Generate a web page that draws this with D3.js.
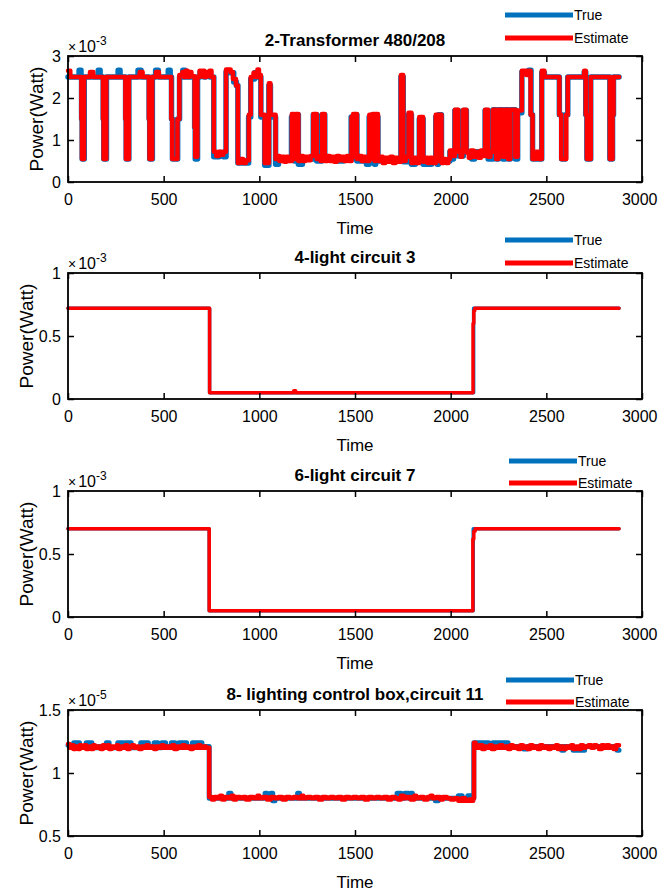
<!DOCTYPE html>
<html>
<head>
<meta charset="utf-8">
<script src="https://cdnjs.cloudflare.com/ajax/libs/d3/7.8.5/d3.min.js"></script>
<style>
body { margin: 0; background: #fff; }
svg text { font-family: "Liberation Sans", Arial, sans-serif; fill: #000; }
</style>
</head>
<body>
<svg id="chart" width="658" height="892"></svg>
<script>

// panel titles / axis things
var titles = ['2-Transformer 480/208', '4-light circuit 3', '6-light circuit 7', '8- lighting control box,circuit 11'];
var exponents = ['-3', '-3', '-3', '-5'];
var yDomains = [[0, 3], [0, 1], [0, 1], [0.5, 1.5]];
var yTicks = [[0, 1, 2, 3], [0, 0.5, 1], [0, 0.5, 1], [0.5, 1, 1.5]];
var xTicks = [0, 500, 1000, 1500, 2000, 2500, 3000];
var seriesNames = ['True', 'Estimate'];

// step change points [time, value] (value holds until next point)
var true1 = [
	[0,2.5],[58,2.66],[68,2.5],[71,1.5],[74,0.55],[85,2.5],
	[158,2.66],[168,2.5],[184,1.5],[187,0.55],[201,2.5],
	[262,2.66],[272,2.5],[301,1.5],[304,0.55],[318,2.5],
	[366,2.66],[382,2.5],[424,1.5],[427,0.55],[441,2.5],
	[458,2.66],[472,2.5],[524,2.66],[534,2.5],
	[541,1.5],[546,0.55],[573,1.5],[583,2.5],
	[600,2.66],[612,2.5],[628,2.6],[640,2.5],
	[662,1.3],[665,0.55],[677,2.5],[690,2.62],[710,2.5],[720,2.6],[742,2.5],
	[762,0.6],[790,0.7],[812,0.6],[826,2.62],[848,2.6],[866,2.38],[880,2.3],
	[888,0.45],[944,1.55],[955,2.45],[975,2.6],[995,2.5],
	[1008,1.55],[1028,0.4],[1050,2.3],[1058,1.55],[1085,0.42],
	[1100,0.55],[1168,1.55],[1182,0.5],[1190,1.6],[1204,0.42],[1225,0.55],
	[1282,1.6],[1300,0.5],[1328,1.6],[1342,0.55],[1400,0.5],[1440,0.58],
	[1480,1.55],[1498,0.55],[1502,1.6],[1510,0.5],[1560,0.42],
	[1574,1.55],[1585,0.5],[1592,1.6],[1602,0.42],[1608,1.55],[1620,0.5],
	[1680,0.55],[1740,2.5],[1752,0.48],[1780,1.6],[1795,0.42],[1815,0.5],
	[1836,1.5],[1856,0.42],[1900,0.5],
	[1922,1.55],[1930,0.42],[1936,1.6],[1952,0.5],
	[1996,0.72],[2005,0.55],[2015,0.72],[2022,1.7],[2040,0.62],[2066,1.7],[2082,0.72],[2110,0.55],[2125,0.72],
	[2180,1.7],[2196,0.55],[2222,1.72],[2238,0.55],[2250,1.72],[2272,0.55],[2285,1.72],[2300,0.55],[2312,1.72],[2338,0.55],
	[2350,1.65],[2372,2.62],[2408,2.66],[2420,1.6],[2428,0.55],
	[2476,2.6],[2490,2.5],[2568,1.6],[2580,0.55],[2600,1.6],[2612,2.5],
	[2698,2.62],[2706,1.6],[2712,0.55],[2732,2.5],[2832,0.55],[2846,1.6],[2851,2.5],[2880,2.5]
];
var est1 = [
	[0,2.65],[12,2.5],
	[70,1.5],[73,0.55],[84,2.5],
	[115,2.62],[132,2.5],
	[183,1.5],[186,0.55],[200,2.5],
	[300,1.5],[303,0.55],[318,2.5],
	[375,2.62],[390,2.5],
	[423,1.5],[426,0.55],[440,2.5],
	[460,2.62],[475,2.5],
	[540,1.5],[545,0.55],[572,1.5],[582,2.55],
	[598,2.62],[606,2.5],[615,2.65],[625,2.5],[635,2.62],[645,2.52],
	[662,1.3],[665,0.6],[676,2.5],
	[688,2.65],[695,2.52],[705,2.65],[712,2.5],[722,2.62],[730,2.52],[740,2.65],[750,2.5],
	[762,0.72],[775,0.62],[788,0.72],[800,0.65],[812,0.72],
	[826,2.68],[850,2.62],[862,2.45],[878,2.3],
	[888,0.45],[900,0.55],[915,0.45],[930,0.52],[945,1.6],[955,2.5],[970,2.6],[982,2.5],[990,2.68],[998,2.55],
	[1008,1.6],[1028,0.45],[1050,2.35],[1058,1.6],[1085,0.55],
	[1095,0.62],[1105,0.5],[1118,0.6],[1130,0.48],[1142,0.6],[1155,0.5],
	[1170,1.62],[1182,0.55],[1190,1.62],[1204,0.5],[1215,0.62],[1228,0.5],[1240,0.6],[1255,0.52],[1268,0.62],
	[1282,1.62],[1300,0.55],[1312,0.62],[1320,0.5],[1328,1.62],[1342,0.5],[1355,0.62],[1368,0.5],[1380,0.6],
	[1392,0.48],[1405,0.62],[1418,0.52],[1430,0.6],[1445,0.5],[1458,0.62],[1470,0.5],
	[1482,1.55],[1490,1.62],[1498,0.6],[1502,1.62],[1510,0.55],[1522,0.62],[1535,0.5],[1548,0.6],[1560,0.5],
	[1575,1.6],[1585,0.55],[1592,1.62],[1602,0.5],[1608,1.62],[1620,0.5],[1632,0.6],[1645,0.45],[1658,0.58],
	[1670,0.48],[1685,0.6],[1698,0.45],[1712,0.58],[1725,0.48],
	[1740,2.55],[1752,0.5],[1765,0.6],[1780,1.65],[1795,0.45],[1808,0.58],[1822,0.45],
	[1836,1.55],[1856,0.48],[1868,0.58],[1880,0.45],[1892,0.58],[1905,0.45],
	[1922,1.6],[1930,0.5],[1936,1.6],[1952,0.45],[1964,0.55],[1975,0.45],[1988,0.55],
	[1996,0.75],[2010,0.62],
	[2022,1.72],[2040,0.72],[2052,0.6],[2060,0.75],[2066,1.72],[2082,0.7],[2095,0.58],[2105,0.75],[2120,0.6],
	[2132,0.72],[2145,0.58],[2158,0.75],[2170,0.62],
	[2180,1.72],[2196,0.6],[2208,0.72],
	[2222,1.72],[2238,0.55],[2250,1.72],[2272,0.6],[2285,1.72],[2300,0.55],[2312,1.72],[2338,0.6],
	[2350,1.7],[2372,2.65],[2395,2.55],[2405,2.65],[2418,1.6],[2428,0.55],
	[2445,0.72],[2460,0.55],[2476,2.65],[2490,2.5],
	[2568,1.6],[2578,0.55],[2604,1.6],[2612,2.5],
	[2698,2.65],[2706,1.6],[2712,0.55],[2732,2.5],
	[2832,0.55],[2846,1.6],[2851,2.5],[2880,2.5]
];

var true2 = [[0,0.72],[740,0.05],[2120,0.72],[2880,0.72]];
var est2 = [[0,0.72],[740,0.05],[1180,0.065],[1190,0.05],[2117,0.6],[2121,0.7],[2126,0.72],[2880,0.72]];

var true3 = [[0,0.70],[738,0.05],[2118,0.70],[2880,0.70]];
var est3 = [[0,0.70],[738,0.05],[2116,0.62],[2121,0.68],[2128,0.70],[2880,0.70]];

var true4 = [
	[0,1.22],[30,1.24],[60,1.21],[95,1.24],[125,1.20],[160,1.21],[200,1.24],[215,1.20],[260,1.24],[290,1.21],
	[300,1.24],[330,1.20],[380,1.24],[420,1.21],[450,1.24],[470,1.20],[490,1.24],[510,1.21],[540,1.24],[560,1.20],
	[580,1.24],[620,1.21],[650,1.24],[700,1.21],[738,0.80],[840,0.84],[852,0.80],[1030,0.84],[1040,0.80],
	[1060,0.84],[1070,0.78],[1082,0.80],[1200,0.84],[1210,0.80],[1720,0.84],[1740,0.80],[1760,0.84],[1780,0.80],
	[1790,0.84],[1800,0.80],[1920,0.78],[1935,0.80],[2040,0.82],[2060,0.80],[2090,0.82],[2110,0.80],
	[2121,1.24],[2200,1.21],[2220,1.24],[2300,1.21],[2380,1.19],[2400,1.21],[2580,1.18],[2592,1.21],
	[2640,1.18],[2700,1.21],[2870,1.18],[2880,1.18]
];
var est4 = [
	[0,1.23],[8,1.20],[20,1.22],[28,1.19],[40,1.21],[52,1.19],[62,1.22],[70,1.20],[85,1.22],[95,1.19],
	[108,1.21],[120,1.19],[132,1.22],[140,1.20],[155,1.21],[170,1.19],[182,1.22],[190,1.20],[205,1.22],[215,1.19],
	[228,1.21],[240,1.20],[255,1.22],[262,1.19],[275,1.21],[290,1.20],[300,1.22],[310,1.19],[322,1.21],[335,1.22],
	[345,1.20],[360,1.21],[372,1.19],[385,1.21],[398,1.20],[410,1.22],[420,1.20],[435,1.21],[450,1.19],[462,1.21],
	[478,1.20],[490,1.22],[500,1.20],[515,1.21],[530,1.20],[545,1.22],[555,1.19],[570,1.21],[585,1.20],[598,1.22],
	[610,1.20],[625,1.21],[640,1.19],[652,1.21],[668,1.20],[680,1.22],[692,1.20],[706,1.21],[720,1.20],
	[738,0.81],[752,0.79],[765,0.81],[780,0.80],[795,0.82],[805,0.79],[820,0.81],[840,0.80],[855,0.82],[865,0.79],
	[880,0.81],[900,0.80],[915,0.81],[930,0.79],[950,0.81],[970,0.80],[990,0.82],[1000,0.80],[1020,0.81],[1040,0.79],
	[1060,0.81],[1080,0.80],[1100,0.81],[1120,0.79],[1140,0.81],[1160,0.80],[1180,0.81],[1200,0.80],[1220,0.82],[1230,0.80],
	[1250,0.81],[1270,0.80],[1290,0.81],[1310,0.79],[1330,0.81],[1350,0.80],[1370,0.81],[1390,0.80],[1410,0.81],[1430,0.79],
	[1450,0.81],[1470,0.80],[1490,0.81],[1510,0.80],[1530,0.81],[1550,0.79],[1570,0.81],[1590,0.80],[1610,0.81],[1630,0.80],
	[1650,0.81],[1670,0.79],[1690,0.81],[1710,0.80],[1725,0.79],[1740,0.82],[1755,0.80],[1770,0.81],[1790,0.79],[1810,0.82],
	[1820,0.80],[1840,0.81],[1860,0.79],[1880,0.81],[1895,0.82],[1905,0.80],[1925,0.81],[1945,0.79],[1960,0.81],[1980,0.80],
	[2000,0.79],[2020,0.80],[2040,0.78],[2060,0.80],[2075,0.78],[2095,0.79],[2110,0.78],[2118,0.80],
	[2122,1.24],[2130,1.22],[2140,1.20],[2152,1.22],[2165,1.19],[2178,1.21],[2190,1.20],[2205,1.22],[2215,1.19],[2230,1.21],
	[2245,1.20],[2258,1.22],[2270,1.20],[2285,1.21],[2300,1.19],[2312,1.22],[2325,1.20],[2340,1.21],[2352,1.19],[2365,1.22],
	[2378,1.20],[2390,1.21],[2402,1.19],[2415,1.22],[2428,1.20],[2440,1.21],[2455,1.19],[2468,1.22],[2480,1.20],[2495,1.21],
	[2510,1.19],[2522,1.21],[2535,1.20],[2550,1.22],[2560,1.19],[2575,1.21],[2590,1.19],[2602,1.21],[2615,1.20],[2630,1.22],
	[2640,1.19],[2655,1.21],[2668,1.19],[2680,1.22],[2692,1.20],[2705,1.21],[2720,1.22],[2735,1.20],[2750,1.22],[2762,1.21],
	[2775,1.19],[2790,1.22],[2802,1.20],[2815,1.22],[2828,1.20],[2840,1.21],[2852,1.19],[2865,1.22],[2880,1.22]
];

var trueSeries = [true1, true2, true3, true4];
var estSeries = [est1, est2, est3, est4];

// layout
var tops = [56, 273, 491, 710];
var boxH = 126;
var left = 68, right = 642;
var legendX = [573, 573, 577, 574];
var legendY = [[15, 38], [240, 263], [461, 483], [680, 702]];
var ylabelX = [43, 33, 33, 33];
var redWidth = [4.5, 3.5, 3.5, 4.5];
var blueWidth = [5.5, 3.5, 3.5, 5];
var colors = {
	'True': '#0072BD',
	'Estimate': '#FF0000',
};

var svg = d3.select('#chart');

function drawPanel(i){
	var top = tops[i];
	var bottom = top + boxH;
	var x = d3.scaleLinear().domain([0, 3000]).range([left, right]);
	var y = d3.scaleLinear().domain(yDomains[i]).range([bottom, top]);
	var g = svg.append('g').attr('class', 'panel-' + i);

	var line = d3.line()
		.x(function(d){ return x(d[0]); })
		.y(function(d){ return y(d[1]); })
		.curve(d3.curveStepAfter);

	g.append('path')
		.datum(trueSeries[i])
		.attr('d', line)
		.attr('fill', 'none')
		.attr('stroke', colors['True'])
		.attr('stroke-width', blueWidth[i])
		.attr('stroke-linejoin', 'round')
		.attr('stroke-linecap', 'round');
	g.append('path')
		.datum(estSeries[i])
		.attr('d', line)
		.attr('fill', 'none')
		.attr('stroke', colors['Estimate'])
		.attr('stroke-width', redWidth[i])
		.attr('stroke-linejoin', 'round')
		.attr('stroke-linecap', 'round');

	// ticks inside, all four sides
	var bx = g.append('g').attr('transform', 'translate(0,' + bottom + ')')
		.call(d3.axisBottom(x).tickValues(xTicks).tickSize(-6).tickPadding(12).tickFormat(d3.format('d')));
	var tx = g.append('g').attr('transform', 'translate(0,' + top + ')')
		.call(d3.axisTop(x).tickValues(xTicks).tickSize(-6).tickFormat(''));
	var ly = g.append('g').attr('transform', 'translate(' + left + ',0)')
		.call(d3.axisLeft(y).tickValues(yTicks[i]).tickSize(-6).tickPadding(7).tickFormat(function(d){ return String(d); }));
	var ry = g.append('g').attr('transform', 'translate(' + right + ',0)')
		.call(d3.axisRight(y).tickValues(yTicks[i]).tickSize(-6).tickFormat(''));
	[bx, tx, ly, ry].forEach(function(a){
		a.select('.domain').remove();
		a.selectAll('.tick line').attr('stroke', '#000').attr('stroke-width', 1.5);
		a.selectAll('.tick text')
			.style('font-family', '"Liberation Sans", Arial, sans-serif')
			.style('font-size', '16px')
			.attr('fill', '#000');
	});
	// last x label sits at the page edge, keep it inside
	bx.selectAll('.tick text')
		.filter(function(d){ return d === 3000; })
		.attr('text-anchor', 'end')
		.attr('x', 15);

	g.append('rect')
		.attr('x', left).attr('y', top)
		.attr('width', right - left).attr('height', boxH)
		.attr('fill', 'none').attr('stroke', '#000').attr('stroke-width', 1.8);

	// title
	g.append('text')
		.attr('x', (left + right) / 2).attr('y', top - 10)
		.attr('text-anchor', 'middle')
		.style('font-size', '17px').style('font-weight', 'bold')
		.text(titles[i]);

	// exponent
	var ex = g.append('text').attr('x', left).attr('y', top - 4).style('font-size', '16px');
	ex.append('tspan').style('font-size', '14px').text('\u00D7');
	ex.append('tspan').attr('dx', 2).text('10');
	ex.append('tspan').attr('dy', -7).style('font-size', '12px').text(exponents[i]);

	// axis labels
	g.append('text')
		.attr('x', (left + right) / 2).attr('y', bottom + 52)
		.attr('text-anchor', 'middle')
		.style('font-size', '17px')
		.text('Time');
	g.append('text')
		.attr('transform', 'translate(' + ylabelX[i] + ',' + (top + boxH / 2) + ') rotate(-90)')
		.attr('text-anchor', 'middle')
		.style('font-size', '19px')
		.text('Power(Watt)');

	// legend
	seriesNames.forEach(function(name, k){
		var ly2 = legendY[i][k];
		g.append('line')
			.attr('x1', legendX[i] - 68).attr('x2', legendX[i])
			.attr('y1', ly2).attr('y2', ly2)
			.attr('stroke', colors[name]).attr('stroke-width', 5);
		g.append('text')
			.attr('x', legendX[i] + 1).attr('y', ly2)
			.attr('dy', '0.35em')
			.style('font-size', '14px')
			.text(name);
	});
}

for (var i = 0; i < 4; i++){
	drawPanel(i);
}
</script>
</body>
</html>
